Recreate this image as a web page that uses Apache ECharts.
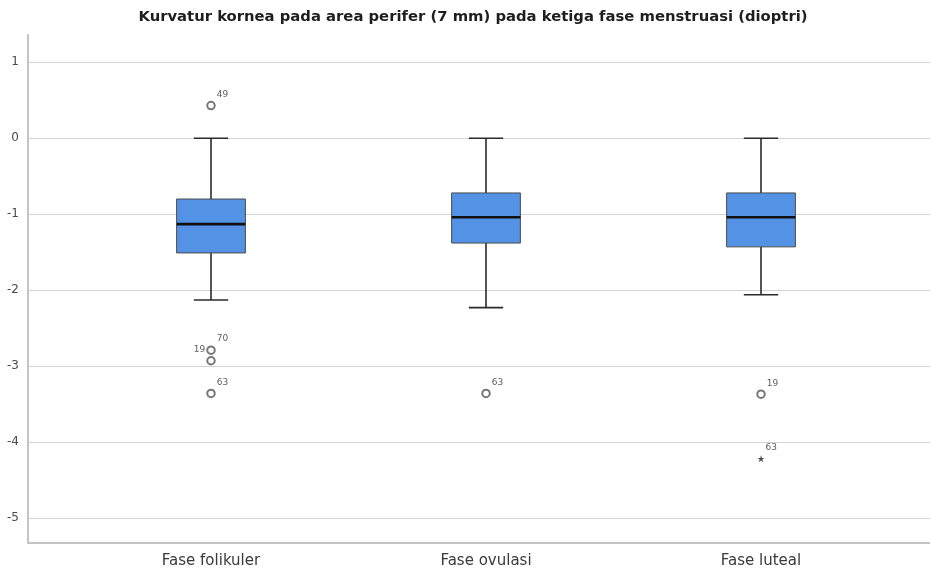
<!DOCTYPE html>
<html>
<head>
<meta charset="utf-8">
<script src="https://cdn.jsdelivr.net/npm/echarts@6/dist/echarts.min.js"></script>
<style>
  html, body { margin: 0; padding: 0; background: #ffffff; }
  #chart { width: 930px; height: 573px; }
</style>
</head>
<body>
<div id="chart"></div>
<script>
// Corneal curvature, peripheral zone (7 mm), per menstrual phase (dioptres)
const categories = ['Fase folikuler', 'Fase ovulasi', 'Fase luteal'];
const whiskerLow = [-2.13, -2.23, -2.06];
const quartile1 = [-1.51, -1.38, -1.43];
const medians = [-1.13, -1.04, -1.04];
const quartile3 = [-0.80, -0.72, -0.72];
const whiskerHigh = [0, 0, 0];

// outliers (open circles) with case numbers
const outlierPhase = [0, 0, 0, 0, 1, 2];
const outlierValue = [0.43, -2.79, -2.93, -3.36, -3.36, -3.37];
const outlierCase = ['49', '70', '19', '63', '63', '19'];

// extreme values (stars) with case numbers
const extremePhase = [2];
const extremeValue = [-4.22];
const extremeCase = ['63'];

const yMin = -5.33;
const yMax = 1.36;

const FONT = 'DejaVu Sans, Liberation Sans, Arial, sans-serif';
const STAR = 'path://M50,0 L61,35 L98,35 L68,57 L79,91 L50,70 L21,91 L32,57 L2,35 L39,35 Z';

// the label of this outlier sits on the left to avoid overlapping its neighbour
const leftLabelled = new Set([2]);

const caseLabel = (name, side) => ({
  show: true,
  formatter: name,
  position: side,
  distance: 1,
  offset: [0, -11],
  fontSize: 9,
  fontFamily: FONT,
  color: '#333'
});

const outlierData = outlierValue.map((v, i) => ({
  value: [outlierPhase[i], v],
  label: caseLabel(outlierCase[i], leftLabelled.has(i) ? 'left' : 'right')
}));

const extremeData = extremeValue.map((v, i) => ({
  value: [extremePhase[i], v],
  label: caseLabel(extremeCase[i], 'right')
}));

const boxData = categories.map((c, i) => [i, whiskerLow[i], quartile1[i], medians[i], quartile3[i], whiskerHigh[i]]);

function renderBox(params, api) {
  const i = api.value(0);
  const pLow = api.coord([i, api.value(1)]);
  const pQ1 = api.coord([i, api.value(2)]);
  const pMed = api.coord([i, api.value(3)]);
  const pQ3 = api.coord([i, api.value(4)]);
  const pHigh = api.coord([i, api.value(5)]);
  const band = api.size([1, 0])[0];
  const half = band * 0.125;
  const capHalf = half / 2;
  const cx = pMed[0];
  const seg = (x1, y1, x2, y2, w, c) => ({
    type: 'line',
    shape: { x1, y1, x2, y2 },
    style: { stroke: c || '#2a2a2a', lineWidth: w }
  });
  return {
    type: 'group',
    children: [
      seg(cx, pQ3[1], cx, pHigh[1], 1.6),
      seg(cx, pQ1[1], cx, pLow[1], 1.6),
      seg(cx - capHalf, pHigh[1], cx + capHalf, pHigh[1], 1.6),
      seg(cx - capHalf, pLow[1], cx + capHalf, pLow[1], 1.6),
      {
        type: 'rect',
        shape: { x: cx - half, y: pQ3[1], width: 2 * half, height: pQ1[1] - pQ3[1] },
        style: { fill: '#5392e4', stroke: '#4a4a4a', lineWidth: 1 }
      },
      seg(cx - half, pMed[1], cx + half, pMed[1], 2.6, '#111')
    ]
  };
}

const chart = echarts.init(document.getElementById('chart'), null, { renderer: 'canvas' });

const gridTop = 35;
const gridBottom = 30;

chart.setOption({
  animation: false,
  backgroundColor: '#ffffff',
  title: {
    text: 'Kurvatur kornea pada area perifer (7 mm) pada ketiga fase menstruasi (dioptri)',
    left: 468,
    textAlign: 'center',
    top: 5,
    textStyle: { fontFamily: FONT, fontSize: 14.8, fontWeight: 'bold', color: '#1e1e1e' }
  },
  grid: [
    { left: 28, right: 0, top: gridTop, bottom: gridBottom, outerBoundsMode: 'none', containLabel: false },
    { left: 73.5, right: 31.5, top: gridTop, bottom: gridBottom, outerBoundsMode: 'none', containLabel: false }
  ],
  xAxis: [
    {
      gridIndex: 0, type: 'value', min: 0, max: 1,
      axisLine: { show: true, onZero: false, lineStyle: { color: '#c4c4c4', width: 2 } },
      axisTick: { show: false }, axisLabel: { show: false }, splitLine: { show: false }
    },
    {
      gridIndex: 1, type: 'category', data: categories, boundaryGap: true,
      axisLine: { show: false, onZero: false }, axisTick: { show: false }, splitLine: { show: false },
      axisLabel: { show: true, margin: 11, fontSize: 15, fontFamily: FONT, color: '#3a3a3a' }
    }
  ],
  yAxis: [
    {
      gridIndex: 0, type: 'value', min: yMin, max: yMax, splitNumber: 6,
      axisLine: { show: true, onZero: false, lineStyle: { color: '#c4c4c4', width: 2 } },
      axisTick: { show: false },
      axisLabel: {
        show: true, margin: 9, fontSize: 12, fontFamily: FONT, color: '#4a4a4a',
        formatter: v => (Math.abs(v - Math.round(v)) < 1e-6 ? String(Math.round(v)) : '')
      },
      splitLine: { show: true, showMinLine: false, showMaxLine: false, lineStyle: { color: '#d4d4d4', width: 1 } }
    },
    {
      gridIndex: 1, type: 'value', min: yMin, max: yMax, show: false
    }
  ],
  series: [
    {
      type: 'custom',
      xAxisIndex: 1, yAxisIndex: 1,
      data: boxData,
      encode: { x: 0, y: [1, 2, 3, 4, 5] },
      renderItem: renderBox,
      silent: true
    },
    {
      type: 'scatter',
      xAxisIndex: 1, yAxisIndex: 1,
      symbol: 'emptyCircle', symbolSize: 7.5,
      itemStyle: { color: '#555', borderWidth: 1 },
      data: outlierData,
      silent: true
    },
    {
      type: 'scatter',
      xAxisIndex: 1, yAxisIndex: 1,
      symbol: STAR, symbolSize: 7,
      itemStyle: { color: '#222' },
      data: extremeData,
      silent: true
    }
  ]
});
</script>
</body>
</html>
